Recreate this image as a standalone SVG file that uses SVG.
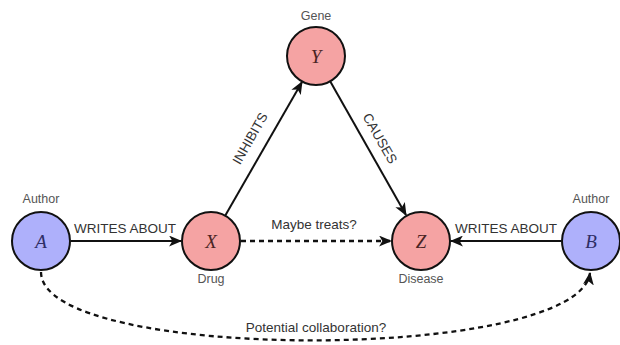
<svg xmlns="http://www.w3.org/2000/svg" width="620" height="345" viewBox="0 0 620 345">
<style>
.node{stroke:#111;stroke-width:2}
.blue{fill:#aeb0fb}
.pink{fill:#f5a3a3}
.var{font-family:"Liberation Serif","DejaVu Serif",serif;font-style:italic;font-size:19px;text-anchor:middle}
.vb{fill:#2e2e66}
.vp{fill:#4a2424}
.cap{font-family:"Liberation Sans",Arial,sans-serif;font-size:12.5px;fill:#555;text-anchor:middle}
.lbl{font-family:"Liberation Sans",Arial,sans-serif;font-size:13.5px;fill:#333;text-anchor:middle}
.edge{stroke:#111;stroke-width:2;fill:none}
.dash{stroke-dasharray:5,4;stroke-width:2.3}
</style>
<defs>
<marker id="arr" viewBox="0 0 12 10" refX="11" refY="5" markerWidth="13" markerHeight="11" markerUnits="userSpaceOnUse" orient="auto">
<path d="M0,0 L12,5 L0,10 L3,5 z" fill="#111"/>
</marker>
</defs>
<rect width="620" height="345" fill="#fff"/>
<g id="connectors">
<line class="edge" x1="71" y1="241" x2="181" y2="241" marker-end="url(#arr)"/>
<line class="edge" x1="225" y1="216" x2="302" y2="82" marker-end="url(#arr)"/>
<line class="edge" x1="330" y1="81" x2="406" y2="215" marker-end="url(#arr)"/>
<line class="edge dash" x1="241" y1="241" x2="391" y2="241" marker-end="url(#arr)"/>
<line class="edge" x1="561" y1="241" x2="451" y2="241" marker-end="url(#arr)"/>
<path class="edge dash" d="M41,272 C41,363 578,363 590,273" marker-end="url(#arr)"/>
<text class="lbl" x="125" y="233">WRITES ABOUT</text>
<text class="lbl" x="506" y="233">WRITES ABOUT</text>
<text class="lbl" x="314" y="229">Maybe treats?</text>
<text class="lbl" x="316" y="332">Potential collaboration?</text>
<text class="lbl" transform="translate(251,139) rotate(-60.4)" dominant-baseline="middle">INHIBITS</text>
<text class="lbl" transform="translate(379,139) rotate(60.4)" dominant-baseline="middle">CAUSES</text>
</g>
<g id="nodeA">
<circle class="node blue" cx="41" cy="241" r="29"/>
<text class="var vb" x="41" y="248">A</text>
<text class="cap" x="41" y="203">Author</text>
</g>
<g id="nodeX">
<circle class="node pink" cx="211" cy="241" r="29"/>
<text class="var vp" x="211" y="248">X</text>
<text class="cap" x="211" y="283">Drug</text>
</g>
<g id="nodeY">
<circle class="node pink" cx="316" cy="56" r="29"/>
<text class="var vp" x="316" y="63">Y</text>
<text class="cap" x="316" y="20">Gene</text>
</g>
<g id="nodeZ">
<circle class="node pink" cx="421" cy="241" r="29"/>
<text class="var vp" x="421" y="248">Z</text>
<text class="cap" x="421" y="283">Disease</text>
</g>
<g id="nodeB">
<circle class="node blue" cx="591" cy="241" r="29"/>
<text class="var vb" x="591" y="248">B</text>
<text class="cap" x="591" y="203">Author</text>
</g>
</svg>
